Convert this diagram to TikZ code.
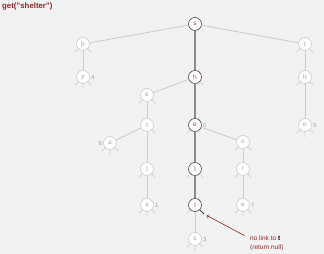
\documentclass[tikz,border=0pt]{standalone}
\usepackage{fontspec}
\setmainfont{Liberation Sans}
\usetikzlibrary{positioning}

\definecolor{paper}{RGB}{242,242,242}
\definecolor{nilgray}{RGB}{205,205,205}
\definecolor{keygray}{RGB}{165,165,165}
\definecolor{hitgray}{RGB}{140,140,140}
\definecolor{hitred}{RGB}{180,60,45}
\definecolor{notered}{RGB}{140,40,40}

\tikzset{
  trie/.style={circle, draw=nilgray, fill=white, line width=0.6pt, inner sep=0pt,
    minimum size=13pt, text=keygray, font=\fontsize{6.5}{7}\selectfont, label distance=3pt},
  hit/.style={trie, draw=black!70},
  val/.style={text=keygray, font=\fontsize{6}{7}\selectfont, inner sep=1pt},
  link/.style={nilgray, line width=0.8pt},
  hitlink/.style={hitgray, line width=1.4pt},
  nil/.style={nilgray, line width=0.6pt},
  hitnil/.style={black!75, line width=0.9pt},
  note/.style={anchor=west, text=notered, font=\fontsize{6.5}{8}\selectfont, inner sep=1pt}
}

\begin{document}
\begin{tikzpicture}[x=1pt,y=-1pt]
            % background
            \fill[paper] (0,0) rectangle (324,254);
            \useasboundingbox (0,0) rectangle (324,254);

            % search key
            \node[anchor=west, text=notered, font=\bfseries\fontsize{7.8}{9}\selectfont, inner sep=0pt] (key) at (2,7) {get("shelter")};

            % trie nodes: search path (hit) and the rest
            \node[hit]  (s)   at (195,24)  {\textcolor{hitred}{s}};
            \node[hit]  (h)   at (195,77)  {\textcolor{hitred}{h}};
            \node[hit, label={[val]right:0}] (e) at (195,125) {\textcolor{hitred}{e}};
            \node[hit]  (l)   at (195,169) {\textcolor{hitred}{l}};
            \node[hit]  (ll)  at (195,205) {\textcolor{hitred}{l}};

            \node[trie] (b)   at (83,44)   {b};
            \node[trie, label={[val]right:4}] (y) at (83,77) {y};
            \node[trie] (t)   at (305,44)  {t};
            \node[trie] (th)  at (305,77)  {h};
            \node[trie, label={[val]right:5}] (the) at (305,125) {e};
            \node[trie] (se)  at (147,95)  {e};
            \node[trie] (sel) at (147,125) {l};
            \node[trie, label={[val]left:6}] (sea) at (110,143) {a};
            \node[trie] (sell) at (147,169) {l};
            \node[trie, label={[val]right:1}] (sells) at (147,205) {s};
            \node[trie] (sho) at (243,142) {o};
            \node[trie] (shr) at (243,169) {r};
            \node[trie, label={[val]right:7}] (shore) at (243,205) {e};
            \node[trie, label={[val]right:3}] (shells) at (195,239) {s};

            % links
            \draw[hitlink] (s) -- (h);
            \draw[hitlink] (h) -- (e);
            \draw[hitlink] (e) -- (l);
            \draw[hitlink] (l) -- (ll);

            \draw[link] (s) -- (b);
            \draw[link] (s) -- (t);
            \draw[link] (b) -- (y);
            \draw[link] (t) -- (th);
            \draw[link] (th) -- (the);
            \draw[link] (h) -- (se);
            \draw[link] (se) -- (sel);
            \draw[link] (sel) -- (sea);
            \draw[link] (sel) -- (sell);
            \draw[link] (sell) -- (sells);
            \draw[link] (e) -- (sho);
            \draw[link] (sho) -- (shr);
            \draw[link] (shr) -- (shore);
            \draw[link] (ll) -- (shells);

            % null links
            \draw[nil] (b.-135) -- ++(-135:5pt) (b.-45) -- ++(-45:5pt);
            \draw[nil] (y.-135) -- ++(-135:5pt) (y.-90) -- ++(-90:5pt) (y.-45) -- ++(-45:5pt);
            \draw[nil] (t.-135) -- ++(-135:5pt) (t.-45) -- ++(-45:5pt);
            \draw[nil] (th.-135) -- ++(-135:5pt) (th.-45) -- ++(-45:5pt);
            \draw[nil] (the.-135) -- ++(-135:5pt) (the.-90) -- ++(-90:5pt) (the.-45) -- ++(-45:5pt);
            \draw[nil] (h.-45) -- ++(-45:5pt);
            \draw[nil] (se.-135) -- ++(-135:5pt) (se.-45) -- ++(-45:5pt);
            \draw[nil] (sel.-45) -- ++(-45:5pt);
            \draw[nil] (sea.-135) -- ++(-135:5pt) (sea.-90) -- ++(-90:5pt) (sea.-45) -- ++(-45:5pt);
            \draw[nil] (sell.-135) -- ++(-135:5pt) (sell.-45) -- ++(-45:5pt);
            \draw[nil] (sells.-135) -- ++(-135:5pt) (sells.-90) -- ++(-90:5pt) (sells.-45) -- ++(-45:5pt);
            \draw[nil] (e.-135) -- ++(-135:5pt);
            \draw[nil] (sho.-135) -- ++(-135:5pt) (sho.-45) -- ++(-45:5pt);
            \draw[nil] (shr.-135) -- ++(-135:5pt) (shr.-45) -- ++(-45:5pt);
            \draw[nil] (shore.-135) -- ++(-135:5pt) (shore.-90) -- ++(-90:5pt) (shore.-45) -- ++(-45:5pt);
            \draw[nil] (l.-135) -- ++(-135:5pt) (l.-45) -- ++(-45:5pt);
            \draw[nil] (ll.-135) -- ++(-135:5pt);
            \draw[nil] (shells.-135) -- ++(-135:5pt) (shells.-90) -- ++(-90:5pt) (shells.-45) -- ++(-45:5pt);
            \draw[hitnil] (ll.-45) -- ++(-45:6pt) coordinate (nullt);

            % note on the missing link
            \node[note] (nolink) at (249,238) {no link to \textcolor{black}{\textbf{t}}};
            \node[note] (retnull) at (249,248) {(return null)};
            \draw[->, notered, line width=0.6pt, shorten <=5pt, shorten >=3pt] (nolink.west) -- (nullt);
        \end{tikzpicture}
\end{document}
